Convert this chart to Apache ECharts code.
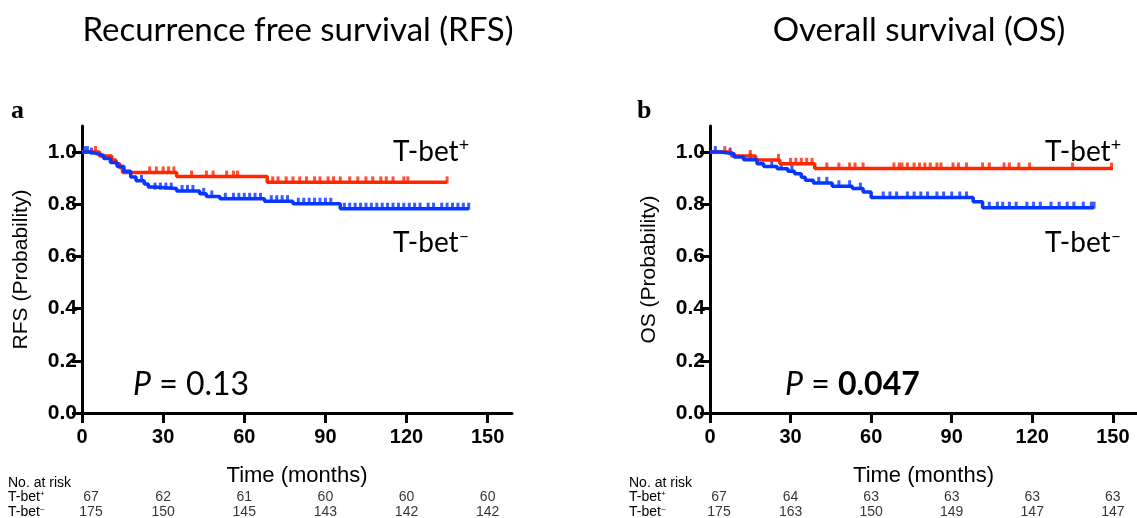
<!DOCTYPE html>
<html lang="en">
<head>
<meta charset="UTF-8">
<title>T-bet survival</title>
<script src="https://cdn.jsdelivr.net/npm/echarts@6/dist/echarts.min.js"></script>
<style>
  html, body { margin: 0; padding: 0; background: #fff; }
  #chart { width: 1137px; height: 518px; }
</style>
</head>
<body>
<div id="chart"></div>
<script>
// Kaplan-Meier steps: [month, survival from that month on]
const rfsPosSteps = [[0, 1], [6.5, 0.985], [11, 0.97], [12.5, 0.955], [14, 0.94], [15, 0.922], [35, 0.906], [68.5, 0.884], [135, 0.884]];
const rfsNegSteps = [[0, 1], [3, 0.994], [5.5, 0.987], [8, 0.975], [10.5, 0.96], [13, 0.945], [15.5, 0.927], [18, 0.905], [20, 0.89], [23, 0.878], [24.5, 0.866], [26.5, 0.86], [35, 0.851], [43.5, 0.84], [46, 0.83], [51, 0.821], [67.5, 0.812], [78, 0.802], [95.5, 0.783], [143, 0.783]];
const osPosSteps = [[0, 1], [8, 0.985], [17, 0.97], [26, 0.955], [39, 0.937], [150, 0.937]];
const osNegSteps = [[0, 1], [4, 0.994], [9, 0.981], [12.5, 0.971], [17.5, 0.955], [20, 0.945], [25, 0.936], [29, 0.927], [31.5, 0.917], [34, 0.904], [35.5, 0.892], [38.5, 0.882], [45.5, 0.869], [53, 0.86], [57, 0.847], [60, 0.826], [98, 0.81], [101.5, 0.787], [143, 0.787]];

// censored observations (months)
const rfsPosCensor = [5, 25, 27.5, 30, 32, 34, 40.5, 46, 48.5, 53.5, 56, 57.5, 70.5, 72.5, 75.5, 78, 80.5, 83, 86, 88, 91, 93, 95.5, 99, 102, 105, 107.5, 110.5, 112.5, 115, 119, 120.5, 135];
const rfsNegCensor = [1, 2, 3.5, 22, 27, 29, 31, 33, 37, 39, 41, 45, 48, 53, 56, 58, 60, 62, 64, 66, 70, 72, 74, 76, 80, 82, 84, 86, 88, 90, 92, 97, 99, 101, 103, 105, 107, 109, 111, 113, 115, 117, 119, 121, 123, 125, 128, 130, 133, 135, 137, 139, 141, 143];
const osPosCensor = [5.5, 15, 25.5, 30, 32, 34, 36, 38, 43.5, 48, 52, 54, 57, 68.5, 70.5, 71.5, 73.5, 76, 78, 80, 82, 84.5, 86, 90.5, 92.5, 95.5, 101.5, 104, 109.5, 111.5, 115, 119, 135, 149.5];
const osNegCensor = [2, 7.5, 15, 23, 26.5, 30.5, 40.5, 43.5, 48, 52, 56, 64.5, 67, 69.5, 73.5, 76, 78.5, 81, 84.5, 87, 90, 93, 95.5, 104, 107, 109, 111.5, 114, 118, 120.5, 123, 127, 130, 133, 135.5, 139, 142, 143];

// number at risk
const riskTimes = [0, 30, 60, 90, 120, 150];
const rfsRiskPos = [67, 62, 61, 60, 60, 60];
const rfsRiskNeg = [175, 150, 145, 143, 142, 142];
const osRiskPos = [67, 64, 63, 63, 63, 63];
const osRiskNeg = [175, 163, 150, 149, 147, 147];

const xTicks = [0, 30, 60, 90, 120, 150];
const yTicks = [0, 0.2, 0.4, 0.6, 0.8, 1.0];

const RED = '#ff2600';
const BLUE = '#0636ff';
const SANS = 'Liberation Sans';
const CAL = 'Lato';

function valueAt(steps, t) {
    let s = steps[0][1];
    for (const p of steps) {
        if (p[0] <= t) s = p[1];
    }
    return s;
}

function xAxisFor(idx) {
    return {
        gridIndex: idx, type: 'value', min: 0, max: 159,
        axisLine: { show: true, onZero: false, lineStyle: { color: '#000', width: 3 } },
        axisTick: { show: true, length: 10, customValues: xTicks, lineStyle: { color: '#000', width: 3 } },
        axisLabel: { customValues: xTicks, fontSize: 20, fontWeight: 'bold', fontFamily: SANS, color: '#000', margin: 14 },
        splitLine: { show: false },
        name: 'Time (months)', nameLocation: 'middle', nameGap: 52,
        nameTextStyle: { fontSize: 22, fontFamily: SANS, color: '#000' }
    };
}

function yAxisFor(idx, name) {
    return {
        gridIndex: idx, type: 'value', min: 0, max: 1.1,
        axisLine: { show: true, lineStyle: { color: '#000', width: 3 } },
        axisTick: { show: true, length: 10, customValues: yTicks, lineStyle: { color: '#000', width: 3 } },
        axisLabel: { customValues: yTicks, formatter: v => v.toFixed(1), fontSize: 21, fontWeight: 'bold', fontFamily: SANS, color: '#000', margin: 5 },
        splitLine: { show: false },
        name: name, nameLocation: 'middle', nameGap: 50,
        nameTextStyle: { fontSize: 21, fontFamily: SANS, color: '#000' }
    };
}

function curve(idx, steps, color) {
    return {
        type: 'line', xAxisIndex: idx, yAxisIndex: idx, step: 'end',
        data: steps, showSymbol: false, silent: true,
        lineStyle: { color: color, width: 3.5 }
    };
}

function censor(idx, steps, times, color) {
    return {
        type: 'scatter', xAxisIndex: idx, yAxisIndex: idx, silent: true,
        data: times.map(t => [t, valueAt(steps, t)]),
        symbol: 'rect', symbolSize: [3, 7], symbolOffset: [0, -2.5],
        itemStyle: { color: color }
    };
}

function riskRow(idx, counts, row) {
    return {
        type: 'scatter', xAxisIndex: idx, yAxisIndex: idx, silent: true,
        data: counts.map((n, i) => ({
            value: [riskTimes[i], row, n],
            // first column sits a little right of the y axis
            label: i === 0 ? { offset: [9, 0] } : undefined
        })),
        symbolSize: 0,
        label: {
            show: true, position: 'inside', formatter: p => p.value[2],
            fontSize: 14, fontFamily: SANS, color: '#000'
        }
    };
}

function hiddenAxes(idx) {
    return [
        { gridIndex: idx, type: 'value', min: 0, max: 159, show: false },
        { gridIndex: idx, type: 'value', min: 0, max: 1, show: false }
    ];
}

function text(x, y, str, size, extra) {
    return {
        type: 'text', x: x, y: y, silent: true,
        style: Object.assign({ text: str, fontSize: size, fontFamily: CAL, fill: '#000', align: 'left', verticalAlign: 'middle' }, extra || {})
    };
}

function tbet(x, y, sign, size, supSize, font) {
    return {
        type: 'text', x: x, y: y, silent: true,
        style: {
            text: '{b|T-bet}{s|' + sign + '}',
            align: 'left', verticalAlign: 'middle',
            rich: {
                b: { fontSize: size, fontFamily: font, fill: '#000', lineHeight: size * 1.1 },
                s: { fontSize: supSize, fontFamily: font, fill: '#000', verticalAlign: 'top', lineHeight: supSize }
            }
        }
    };
}

function pLabel(x, y, value, bold) {
    return {
        type: 'text', x: x, y: y, silent: true,
        style: {
            text: '{i|P}{n| = }{v|' + value + '}',
            align: 'left', verticalAlign: 'middle',
            rich: {
                i: { fontSize: 32, fontFamily: CAL, fontStyle: 'italic', fill: '#000' },
                n: { fontSize: 32, fontFamily: CAL, fill: '#000' },
                v: { fontSize: 32, fontFamily: CAL, fontWeight: bold ? 'bold' : 'normal', fill: '#000' }
            }
        }
    };
}

const chart = echarts.init(document.getElementById('chart'));

const [tx0, ty0] = hiddenAxes(2);
const [tx1, ty1] = hiddenAxes(3);

chart.setOption({
    animation: false,
    backgroundColor: '#fff',
    grid: [
        { left: 82, top: 126, width: 430, height: 287 },
        { left: 710, top: 126, width: 429, height: 287 },
        { left: 82, top: 497, width: 430, height: 15 },
        { left: 710, top: 497, width: 429, height: 15 }
    ],
    xAxis: [xAxisFor(0), xAxisFor(1), tx0, tx1],
    yAxis: [yAxisFor(0, 'RFS (Probability)'), yAxisFor(1, 'OS (Probability)'), ty0, ty1],
    series: [
        curve(0, rfsPosSteps, RED),
        curve(0, rfsNegSteps, BLUE),
        censor(0, rfsPosSteps, rfsPosCensor, RED),
        censor(0, rfsNegSteps, rfsNegCensor, BLUE),
        curve(1, osPosSteps, RED),
        curve(1, osNegSteps, BLUE),
        censor(1, osPosSteps, osPosCensor, RED),
        censor(1, osNegSteps, osNegCensor, BLUE),
        riskRow(2, rfsRiskPos, 1),
        riskRow(2, rfsRiskNeg, 0),
        riskRow(3, osRiskPos, 1),
        riskRow(3, osRiskNeg, 0)
    ],
    graphic: [
        text(298, 30, 'Recurrence free survival (RFS)', 33, { align: 'center' }),
        text(919, 30, 'Overall survival (OS)', 33, { align: 'center' }),
        text(11, 111, 'a', 26, { fontFamily: 'Liberation Serif', fontWeight: 'bold' }),
        text(637, 111, 'b', 26, { fontFamily: 'Liberation Serif', fontWeight: 'bold' }),
        tbet(393, 152, '+', 28, 18, CAL),
        tbet(393, 243, '\u2013', 28, 18, CAL),
        tbet(1045, 152, '+', 28, 18, CAL),
        tbet(1045, 243, '\u2013', 28, 18, CAL),
        pLabel(133, 385, '0.13', false),
        pLabel(785, 385, '0.047', true),
        text(8, 483, 'No. at risk', 14, { fontFamily: SANS }),
        tbet(8, 497, '+', 14, 8, SANS),
        tbet(8, 512, '\u2013', 14, 8, SANS),
        text(629, 483, 'No. at risk', 14, { fontFamily: SANS }),
        tbet(629, 497, '+', 14, 8, SANS),
        tbet(629, 512, '\u2013', 14, 8, SANS)
    ]
});
</script>
</body>
</html>
